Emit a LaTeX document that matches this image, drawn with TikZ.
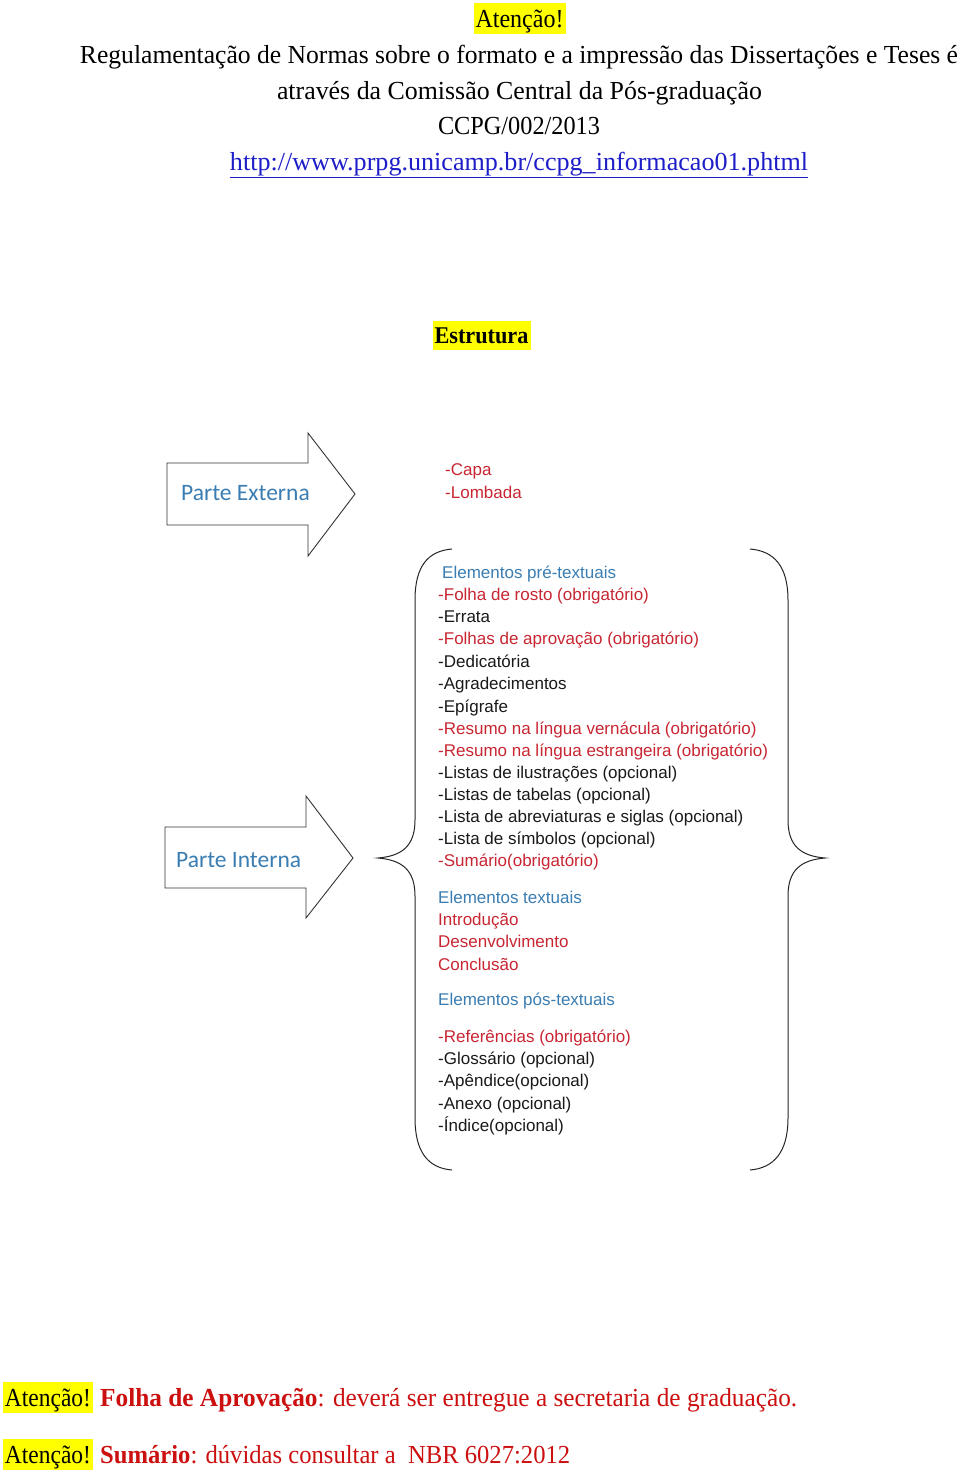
\documentclass[tikz,border=0pt]{standalone}
\usepackage{fontspec}
\usepackage{graphicx}
\setmainfont{Liberation Serif}
\newfontfamily\arialf{Liberation Sans}
\newfontfamily\calib{Carlito}
\definecolor{hlyellow}{RGB}{255,255,0}
\definecolor{lred}{RGB}{200,38,50}
\definecolor{lblue}{RGB}{58,125,178}
\definecolor{lblack}{RGB}{25,25,25}
\definecolor{bred}{RGB}{204,16,16}
\definecolor{linkblue}{RGB}{30,30,200}
\newcommand\fitw[2]{\resizebox{#1}{\height}{#2}}
\begin{document}
\begin{tikzpicture}[x=1pt,y=-1pt,
  hl/.style={fill=hlyellow, inner xsep=2pt, inner ysep=1.5pt, text height=22.5pt, text depth=5.5pt, anchor=base, font=\fontsize{26}{30}\selectfont},
  head/.style={anchor=base, inner sep=0pt, font=\fontsize{26}{30}\selectfont},
  item/.style={anchor=base west, inner sep=0pt, font=\arialf\fontsize{17}{20}\selectfont},
  arrowshape/.style={draw=black!80, line width=0.9pt, fill=white, line join=miter},
  bracestyle/.style={draw=black!85, line width=1pt},
  parte/.style={anchor=base west, inner sep=0pt, text=lblue, font=\calib\fontsize{23.5}{28}\selectfont}]
\useasboundingbox[fill=white] (0,0) rectangle (960,1473);

% header
\node[hl] (att) at (519.5,27) {\fitw{88pt}{Atenção!}};
\node[head] (l2) at (519,63) {\fitw{878pt}{Regulamentação de Normas sobre o formato e a impressão das Dissertações e Teses é}};
\node[head] (l3) at (519.5,99) {\fitw{485pt}{através da Comissão Central da Pós-graduação}};
\node[head] (l4) at (519,134.5) {\fitw{162pt}{CCPG/002/2013}};
\node[head, text=linkblue] (url) at (519,170.5) {\fitw{578pt}{\underline{http://www.prpg.unicamp.br/ccpg\_informacao01.phtml}}};

\node[hl, font=\bfseries\fontsize{24}{28}\selectfont, text height=21pt, text depth=5.5pt] (est) at (481.5,343) {\fitw{94pt}{Estrutura}};

% arrows
\draw[arrowshape] (167,463) -- (308,463) -- (308,433) -- (355,494) -- (308,556) -- (308,525) -- (167,525) -- cycle;
\node[parte] (pe) at (181,500) {Parte Externa};
\draw[arrowshape] (165,827) -- (306,827) -- (306,796) -- (353,858) -- (306,918) -- (306,888) -- (165,888) -- cycle;
\node[parte] (pi) at (176,867) {Parte Interna};

% capa / lombada
\node[item, text=lred] (capa) at (445,475) {-Capa};
\node[item, text=lred] (lomb) at (445,498) {-Lombada};

% braces
\draw[bracestyle] (452,549) .. controls (428,551) and (415,566) .. (415,600) -- (415,820)
  .. controls (415,846) and (402,856) .. (378,858)
  .. controls (402,860) and (415,870) .. (415,896) -- (415,1118)
  .. controls (415,1152) and (428,1168) .. (452,1170);
\draw[bracestyle] (750,549) .. controls (774,551) and (788,566) .. (788,600) -- (788,820)
  .. controls (788,846) and (801,856) .. (825,858)
  .. controls (801,860) and (788,870) .. (788,896) -- (788,1118)
  .. controls (788,1152) and (774,1168) .. (750,1170);

% list
\foreach \n/\x/\y/\c/\t in {
  1/442/578/lblue/Elementos pré-textuais,
  2/438/600/lred/-Folha de rosto (obrigatório),
  3/438/622/lblack/-Errata,
  4/438/644/lred/-Folhas de aprovação (obrigatório),
  5/438/667/lblack/-Dedicatória,
  6/438/689/lblack/-Agradecimentos,
  7/438/712/lblack/-Epígrafe,
  8/438/734/lred/-Resumo na língua vernácula (obrigatório),
  9/438/756/lred/-Resumo na língua estrangeira (obrigatório),
  10/438/778/lblack/-Listas de ilustrações (opcional),
  11/438/800/lblack/-Listas de tabelas (opcional),
  12/438/822/lblack/-Lista de abreviaturas e siglas (opcional),
  13/438/844/lblack/-Lista de símbolos (opcional),
  14/438/866/lred/-Sumário(obrigatório),
  15/438/903/lblue/Elementos textuais,
  16/438/925/lred/Introdução,
  17/438/947/lred/Desenvolvimento,
  18/438/970/lred/Conclusão,
  19/438/1005/lblue/Elementos pós-textuais,
  20/438/1042/lred/-Referências (obrigatório),
  21/438/1064/lblack/-Glossário (opcional),
  22/438/1086/lblack/-Apêndice(opcional),
  23/438/1109/lblack/-Anexo (opcional),
  24/438/1131/lblack/-Índice(opcional)}
  {\node[item, text=\c] (it\n) at (\x,\y) {\t};}

% footer
\node[hl] (att2) at (48,1406) {\fitw{86pt}{Atenção!}};
\node[anchor=base west, inner sep=0pt, text=bred, font=\fontsize{26}{30}\selectfont] (f1) at (100,1406)
  {\fitw{697pt}{\textbf{Folha de Aprovação}: deverá ser entregue a secretaria de graduação.}};
\node[hl] (att3) at (48,1463) {\fitw{86pt}{Atenção!}};
\node[anchor=base west, inner sep=0pt, text=bred, font=\fontsize{26}{30}\selectfont] (f2) at (100,1463)
  {\fitw{470pt}{\textbf{Sumário}: dúvidas consultar a~~NBR 6027:2012}};
\end{tikzpicture}
\end{document}
